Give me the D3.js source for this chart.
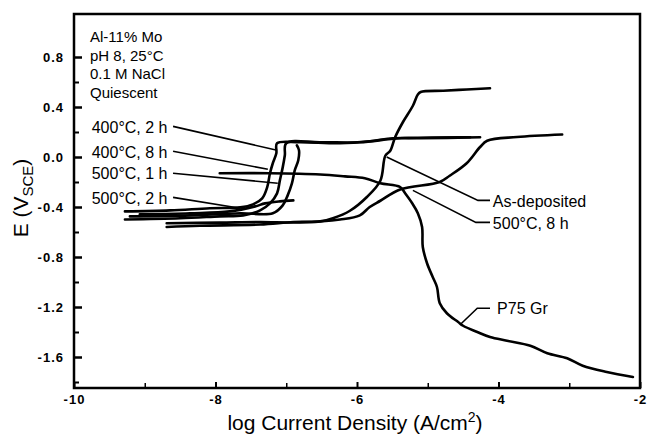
<!DOCTYPE html>
<html>
<head>
<meta charset="utf-8">
<script src="https://cdn.jsdelivr.net/npm/d3@7"></script>
<style>
  html, body { margin: 0; padding: 0; background: #fff; }
  svg { display: block; font-family: "Liberation Sans", Arial, Helvetica, sans-serif; }
</style>
</head>
<body>
<svg id="chart" width="647" height="437"></svg>
<script>
// Potentiodynamic polarization of Al-11% Mo in 0.1 M NaCl (log i, E vs SCE)
const xTicks = [-10, -8, -6, -4, -2];
const xMinorTicks = [-9, -7, -5, -3];
const yTicks = [0.8, 0.4, 0.0, -0.4, -0.8, -1.2, -1.6];
const yMinorTicks = [0.6, 0.2, -0.2, -0.6, -1.0, -1.4, -1.8];
const conditions = ["Al-11% Mo", "pH 8, 25°C", "0.1 M NaCl", "Quiescent"];

// each series: [log current density, potential in V]
const p75Gr = [
  [-7.94, -0.13], [-7.23, -0.13], [-6.52, -0.14], [-6.17, -0.155], [-5.89, -0.17],
  [-5.67, -0.21], [-5.39, -0.24], [-5.32, -0.29], [-5.22, -0.37], [-5.14, -0.45],
  [-5.08, -0.56], [-5.07, -0.72], [-5.01, -0.85], [-4.93, -0.96], [-4.87, -1.04],
  [-4.83, -1.17], [-4.73, -1.25], [-4.57, -1.32], [-4.50, -1.35], [-4.30, -1.40],
  [-4.12, -1.44], [-3.88, -1.47], [-3.55, -1.51], [-3.31, -1.57], [-3.03, -1.61],
  [-2.81, -1.67], [-2.47, -1.72], [-2.10, -1.76]
];
const asDeposited = [
  [-8.69, -0.56], [-8.22, -0.55], [-7.37, -0.54], [-6.90, -0.52], [-6.52, -0.515],
  [-6.34, -0.49], [-6.10, -0.43], [-5.86, -0.32], [-5.67, -0.19], [-5.60, 0.01],
  [-5.53, 0.05], [-5.46, 0.16], [-5.35, 0.28], [-5.21, 0.41], [-5.14, 0.50],
  [-5.10, 0.52], [-4.78, 0.53], [-4.45, 0.54], [-4.12, 0.55]
];
const c500h8 = [
  [-8.69, -0.53], [-7.94, -0.525], [-7.37, -0.52], [-6.81, -0.523], [-6.24, -0.50],
  [-5.96, -0.467], [-5.82, -0.40], [-5.67, -0.35], [-5.39, -0.26], [-4.83, -0.20],
  [-4.69, -0.15], [-4.45, -0.05], [-4.26, 0.08], [-4.16, 0.13], [-3.74, 0.16],
  [-3.10, 0.18]
];
const c400h2 = [
  [-9.28, -0.435], [-8.64, -0.427], [-8.08, -0.41], [-7.65, -0.403], [-7.47, -0.379],
  [-7.34, -0.331], [-7.27, -0.243], [-7.23, -0.13], [-7.19, -0.05], [-7.14, 0.03],
  [-7.13, 0.11], [-6.81, 0.118], [-6.24, 0.11], [-5.82, 0.126], [-5.49, 0.15],
  [-5.11, 0.15], [-4.26, 0.158]
];
const c400h8 = [
  [-9.28, -0.50], [-8.50, -0.49], [-7.94, -0.475], [-7.61, -0.467], [-7.37, -0.427],
  [-7.23, -0.371], [-7.13, -0.291], [-7.09, -0.187], [-7.05, -0.083], [-7.02, 0.014],
  [-7.00, 0.11], [-6.52, 0.118], [-5.96, 0.118], [-5.39, 0.15], [-4.40, 0.158]
];
const c500h1 = [
  [-9.21, -0.475], [-8.36, -0.467], [-7.65, -0.45], [-7.19, -0.45], [-7.05, -0.387],
  [-6.98, -0.307], [-6.92, -0.211], [-6.88, -0.107], [-6.83, -0.026], [-6.82, 0.054],
  [-6.85, 0.094]
];
const c500h2 = [
  [-9.07, -0.459], [-8.36, -0.45], [-7.80, -0.435], [-7.44, -0.395], [-7.30, -0.371],
  [-7.09, -0.355], [-6.90, -0.347]
];
const seriesList = [p75Gr, asDeposited, c500h8, c400h2, c400h8, c500h1, c500h2];

// curve labels: text anchor and leader path, all in data units
const labels = [
  { text: "400°C, 2 h", at: [-9.75, 0.238], leader: [[-8.60, 0.245], [-7.13, 0.054]] },
  { text: "400°C, 8 h", at: [-9.75, 0.038], leader: [[-8.60, 0.046], [-7.26, -0.098]] },
  { text: "500°C, 1 h", at: [-9.75, -0.13], leader: [[-8.60, -0.13], [-7.12, -0.21]] },
  { text: "500°C, 2 h", at: [-9.75, -0.33], leader: [[-8.60, -0.323], [-7.65, -0.41]] },
  { text: "As-deposited", at: [-4.08, -0.355], leader: [[-5.58, 0.0], [-4.29, -0.347], [-4.12, -0.347]] },
  { text: "500°C, 8 h", at: [-4.08, -0.53], leader: [[-5.21, -0.267], [-4.32, -0.523], [-4.12, -0.523]] },
  { text: "P75 Gr", at: [-4.02, -1.21], leader: [[-4.54, -1.34], [-4.30, -1.21], [-4.12, -1.21]] }
];

const svg = d3.select("#chart");
const plot = { left: 74, right: 640, top: 14, bottom: 388 };

const x = d3.scaleLinear().domain([-10, -2]).range([plot.left, plot.right]);
const y = d3.scaleLinear().domain([-1.6, 0.8]).range([357, 57]);

// frame
svg.append("rect")
  .attr("x", plot.left).attr("y", plot.top)
  .attr("width", plot.right - plot.left).attr("height", plot.bottom - plot.top)
  .attr("fill", "none").attr("stroke", "#000").attr("stroke-width", 2.5);

// x axis ticks (pointing inward)
const xAxis = d3.axisBottom(x).tickValues(xTicks).tickSize(-6).tickPadding(7)
  .tickFormat(d3.format("d"));
const gx = svg.append("g").attr("transform", `translate(0,${plot.bottom})`).call(xAxis);
gx.select(".domain").remove();
gx.selectAll(".tick line").attr("stroke-width", 2);
gx.selectAll(".tick text")
  .attr("font-size", 13).attr("font-weight", "bold")
  .attr("letter-spacing", 1)
  .attr("font-family", "Liberation Sans, Arial, sans-serif")
  .text(d => String(d));
const gxm = svg.append("g").attr("transform", `translate(0,${plot.bottom})`)
  .call(d3.axisBottom(x).tickValues(xMinorTicks).tickSize(-5).tickFormat(""));
gxm.select(".domain").remove();
gxm.selectAll(".tick line").attr("stroke-width", 1.5);

// y axis ticks
const yAxis = d3.axisLeft(y).tickValues(yTicks).tickSize(-8).tickPadding(10)
  .tickFormat(d3.format(".1f"));
const gy = svg.append("g").attr("transform", `translate(${plot.left},0)`).call(yAxis);
gy.select(".domain").remove();
gy.selectAll(".tick line").attr("stroke-width", 2.5);
gy.selectAll(".tick text")
  .attr("font-size", 13).attr("font-weight", "bold")
  .attr("letter-spacing", 1)
  .attr("font-family", "Liberation Sans, Arial, sans-serif")
  .text(d => d3.format(".1f")(d).replace("−", "-"));
const gym = svg.append("g").attr("transform", `translate(${plot.left},0)`)
  .call(d3.axisLeft(y).tickValues(yMinorTicks).tickSize(-5).tickFormat(""));
gym.select(".domain").remove();
gym.selectAll(".tick line").attr("stroke-width", 2);

// polarization curves
const line = d3.line().x(d => x(d[0])).y(d => y(d[1])).curve(d3.curveCatmullRom.alpha(0.5));
svg.append("g").selectAll("path").data(seriesList).join("path")
  .attr("d", line)
  .attr("fill", "none").attr("stroke", "#000")
  .attr("stroke-width", 2.6).attr("stroke-linejoin", "round").attr("stroke-linecap", "round");

// leaders and curve labels
const leader = d3.line().x(d => x(d[0])).y(d => y(d[1]));
const lg = svg.append("g");
lg.selectAll("path").data(labels).join("path")
  .attr("d", d => leader(d.leader))
  .attr("fill", "none").attr("stroke", "#000").attr("stroke-width", 1.6);
lg.selectAll("text").data(labels).join("text")
  .attr("x", d => x(d.at[0])).attr("y", d => y(d.at[1]))
  .attr("dy", "0.35em")
  .attr("font-size", 16)
  .text(d => d.text);

// test conditions
svg.append("g").selectAll("text").data(conditions).join("text")
  .attr("x", 90).attr("y", (d, i) => 42 + i * 18.7)
  .attr("font-size", 15)
  .text(d => d);

// axis titles
const xt = svg.append("text")
  .attr("x", 355).attr("y", 430)
  .attr("text-anchor", "middle").attr("font-size", 21);
xt.append("tspan").text("log Current Density (A/cm");
xt.append("tspan").attr("dy", -8).attr("font-size", 14).text("2");
xt.append("tspan").attr("dy", 8).text(")");

const yt = svg.append("text")
  .attr("transform", "translate(28,198) rotate(-90)")
  .attr("text-anchor", "middle").attr("font-size", 21);
yt.append("tspan").text("E (V");
yt.append("tspan").attr("dy", 5).attr("font-size", 15).text("SCE");
yt.append("tspan").attr("dy", -5).text(")");
</script>
</body>
</html>
